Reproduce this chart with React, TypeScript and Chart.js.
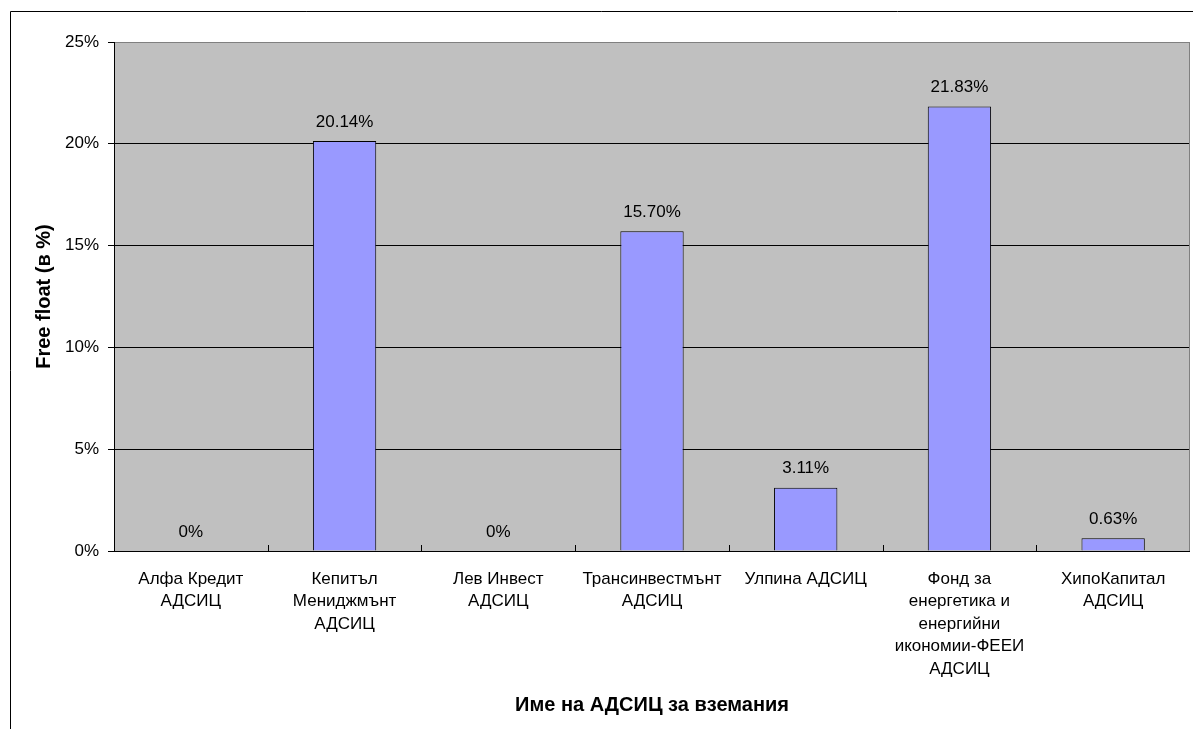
import React, { useEffect, useRef } from "react";
import { Chart, registerables } from "chart.js";

Chart.register(...registerables);

const categories: string[][] = [
  ["Алфа Кредит", "АДСИЦ"],
  ["Кепитъл", "Мениджмънт", "АДСИЦ"],
  ["Лев Инвест", "АДСИЦ"],
  ["Трансинвестмънт", "АДСИЦ"],
  ["Улпина АДСИЦ"],
  ["Фонд за", "енергетика и", "енергийни", "икономии-ФЕЕИ", "АДСИЦ"],
  ["ХипоКапитал", "АДСИЦ"],
];
const freeFloat: number[] = [0, 20.14, 0, 15.7, 3.11, 21.83, 0.63];
const yTicks: number[] = [0, 5, 10, 15, 20, 25];
const yTitle = "Free float (в %)";
const xTitle = "Име на АДСИЦ за вземания";

const FONT = "'Liberation Sans', Arial, sans-serif";

const fmt = (v: number) => (v === 0 ? "0%" : v.toFixed(2) + "%");

const decor = {
  id: "decor",
  beforeDraw(chart: any) {
    const { ctx, chartArea: a } = chart;
    ctx.save();
    ctx.fillStyle = "#C0C0C0";
    ctx.fillRect(a.left, a.top, a.right - a.left, a.bottom - a.top);
    ctx.strokeStyle = "#000";
    ctx.lineWidth = 1;
    ctx.beginPath();
    ctx.moveTo(10.5, chart.height);
    ctx.lineTo(10.5, 11.5);
    ctx.lineTo(chart.width, 11.5);
    ctx.stroke();
    ctx.restore();
  },
  afterDatasetsDraw(chart: any) {
    const { ctx, chartArea: a } = chart;
    const xs = chart.scales.x;
    ctx.save();
    ctx.strokeStyle = "#808080";
    ctx.lineWidth = 1;
    ctx.beginPath();
    ctx.moveTo(a.left, a.top + 0.5);
    ctx.lineTo(a.right - 0.5, a.top + 0.5);
    ctx.lineTo(a.right - 0.5, a.bottom);
    ctx.stroke();
    ctx.strokeStyle = "#000";
    const n = categories.length;
    const w = (a.right - a.left) / n;
    for (let i = 1; i < n; i++) {
      const x = Math.round(xs.getPixelForValue(i) - w / 2) + 0.5;
      ctx.beginPath();
      ctx.moveTo(x, a.bottom);
      ctx.lineTo(x, a.bottom - 6);
      ctx.stroke();
    }
    ctx.beginPath();
    ctx.moveTo(a.left + 0.5, a.top);
    ctx.lineTo(a.left + 0.5, a.bottom);
    ctx.moveTo(a.left, a.bottom + 0.5);
    ctx.lineTo(a.right, a.bottom + 0.5);
    ctx.stroke();
    ctx.fillStyle = "#000";
    ctx.font = "17px " + FONT;
    ctx.textAlign = "center";
    ctx.textBaseline = "middle";
    const meta = chart.getDatasetMeta(0);
    meta.data.forEach((bar: any, i: number) => {
      ctx.fillText(fmt(freeFloat[i]), bar.x, bar.y - 19);
    });
    ctx.restore();
  },
};

export default function App() {
  const ref = useRef<HTMLCanvasElement>(null);
  useEffect(() => {
    document.body.style.margin = "0";
    const chart = new Chart(ref.current!, {
      type: "bar",
      data: {
        labels: categories,
        datasets: [
          {
            data: freeFloat,
            backgroundColor: "#9999FF",
            borderColor: "#000",
            borderWidth: 1,
            barPercentage: 0.412,
            categoryPercentage: 1,
          },
        ],
      },
      options: {
        animation: false,
        responsive: false,
        devicePixelRatio: 1,
        layout: { padding: { left: 20, top: 42, right: 3, bottom: 0 } },
        plugins: { legend: { display: false }, tooltip: { enabled: false } },
        scales: {
          x: {
            offset: true,
            grid: { display: false },
            border: { display: false },
            ticks: {
              color: "#000",
              font: { family: FONT, size: 17, lineHeight: 1.32 },
              padding: 9,
              maxRotation: 0,
              autoSkip: false,
            },
            title: {
              display: true,
              text: xTitle,
              color: "#000",
              font: { family: FONT, size: 20, weight: "bold", lineHeight: 1.2 },
              padding: { top: 0, bottom: 12 },
            },
            afterFit: (s: any) => {
              s.height = 178;
            },
          },
          y: {
            min: 0,
            max: 25,
            afterBuildTicks: (s: any) => {
              s.ticks = yTicks.map((v) => ({ value: v }));
            },
            grid: {
              color: (c: any) => (c.tick && c.tick.value === 25 ? "#808080" : "#000"),
              tickLength: 6,
              tickColor: "#000",
              lineWidth: 1,
            },
            border: { display: false },
            ticks: {
              color: "#000",
              font: { family: FONT, size: 17 },
              padding: 9,
              callback: (v: any) => v + "%",
            },
            title: {
              display: true,
              text: yTitle,
              color: "#000",
              font: { family: FONT, size: 20, weight: "bold", lineHeight: 1.2 },
              padding: { top: 12, bottom: 0 },
            },
            afterFit: (s: any) => {
              s.width = 94;
            },
          },
        },
      },
      plugins: [decor],
    });
    return () => chart.destroy();
  }, []);
  return (
    <div style={{ position: "fixed", left: 0, top: 0, width: 1193, height: 729, background: "#fff" }}>
      <canvas ref={ref} width={1193} height={729} />
    </div>
  );
}
